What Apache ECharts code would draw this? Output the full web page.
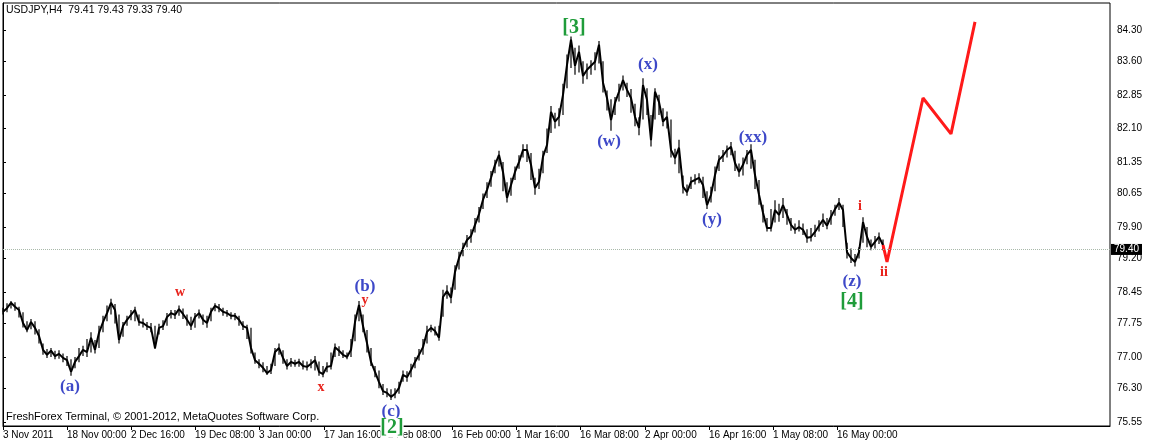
<!DOCTYPE html>
<html><head><meta charset="utf-8">
<script src="https://cdn.jsdelivr.net/npm/echarts@6/dist/echarts.min.js"></script>
<style>html,body{margin:0;padding:0;background:#fff}#c{width:1154px;height:442px}</style>
</head><body><div id="c"></div>
<script>
// USDJPY H4, sampled every ~4 bars-width (bar index = position in array)
const prices = [
78.01,78.09,78.21,78.12,78.05,77.76,77.60,77.78,77.65,77.47,
77.16,77.05,77.14,77.02,77.07,76.98,76.93,76.67,76.89,77.02,
77.16,77.11,77.43,77.16,77.54,77.78,77.98,78.21,78.05,77.38,
77.69,77.83,77.94,78.05,77.78,77.76,77.69,77.65,77.20,77.65,
77.69,77.89,77.98,77.94,78.07,77.96,77.83,77.69,77.89,77.98,
77.83,77.76,78.01,78.14,78.09,78.01,77.98,77.92,77.92,77.83,
77.69,77.65,77.20,76.93,76.85,76.76,76.64,76.71,77.11,77.20,
76.98,76.80,76.89,76.85,76.89,76.80,76.78,76.85,76.93,76.67,
76.62,76.78,76.80,77.22,77.14,77.05,77.00,77.16,77.78,78.16,
77.69,77.31,76.89,76.67,76.44,76.24,76.20,76.11,76.18,76.31,
76.60,76.55,76.71,76.89,77.05,77.22,77.56,77.65,77.58,77.43,
78.34,78.47,78.32,78.90,79.21,79.43,79.61,79.70,79.95,80.19,
80.51,80.73,81.00,81.29,81.51,81.13,80.55,80.84,81.13,81.35,
81.62,81.62,81.29,80.77,80.91,81.47,81.73,82.47,82.25,82.36,
82.85,83.52,84.08,83.50,83.81,83.27,83.41,83.50,83.59,83.97,
83.12,82.78,82.29,82.67,82.92,83.18,82.96,82.78,82.36,82.11,
83.07,82.74,81.84,82.92,82.69,82.25,82.36,81.62,81.44,81.67,
80.80,80.68,80.91,80.95,81.00,80.84,80.39,80.62,81.06,81.40,
81.49,81.62,81.69,81.33,81.13,81.29,81.51,81.62,81.06,80.62,
80.22,79.88,79.88,80.28,80.17,80.39,80.17,79.95,79.84,79.90,
79.84,79.66,79.68,79.79,79.93,80.06,79.93,80.13,80.30,80.44,
80.28,79.34,79.21,79.12,79.34,80.01,79.68,79.46,79.57,79.68,
79.50
];
const highs = [
78.10,78.20,78.25,78.22,78.12,78.00,77.80,77.85,77.80,77.62,
77.30,77.18,77.20,77.14,77.15,77.08,77.02,76.95,77.00,77.20,
77.25,77.40,77.55,77.38,77.70,77.92,78.15,78.30,78.18,77.95,
77.78,77.92,78.05,78.12,77.95,77.86,77.78,77.76,77.70,77.74,
77.82,77.98,78.05,78.05,78.15,78.08,77.95,77.90,77.98,78.06,
77.95,77.92,78.10,78.20,78.18,78.10,78.05,78.00,77.98,77.92,
77.80,77.72,77.65,77.10,76.95,76.88,76.80,76.85,77.20,77.30,
77.15,76.95,76.98,76.94,76.96,76.92,76.90,76.95,77.02,76.90,
76.80,76.88,77.10,77.30,77.24,77.15,77.10,77.40,77.95,78.25,
77.95,77.60,77.20,76.80,76.70,76.40,76.30,76.28,76.30,76.45,
76.70,76.68,76.85,77.00,77.18,77.40,77.70,77.72,77.68,77.70,
78.50,78.60,78.55,79.05,79.35,79.55,79.72,79.85,80.10,80.35,
80.65,80.90,81.15,81.40,81.60,81.35,80.90,81.00,81.25,81.50,
81.75,81.75,81.55,81.00,81.20,81.60,82.10,82.60,82.45,82.55,
83.10,83.75,84.15,83.90,83.95,83.60,83.55,83.62,83.80,84.05,
83.60,82.95,82.75,82.80,83.10,83.28,83.12,82.98,82.65,82.35,
83.22,83.00,82.40,83.00,82.85,82.55,82.48,82.30,81.65,81.85,
81.05,80.85,81.02,81.08,81.10,81.02,80.70,80.80,81.25,81.50,
81.62,81.72,81.80,81.60,81.32,81.45,81.62,81.75,81.40,80.95,
80.40,80.10,80.30,80.50,80.42,80.55,80.30,80.10,79.98,80.05,
79.98,79.85,79.88,79.95,80.05,80.20,80.10,80.28,80.40,80.55,
80.40,79.55,79.42,79.30,79.45,80.12,79.90,79.62,79.70,79.78,
79.62
];
const lows = [
77.95,78.00,78.08,78.03,77.88,77.66,77.55,77.62,77.50,77.30,
77.05,76.98,77.00,76.95,76.96,76.88,76.80,76.58,76.75,76.88,
77.02,77.00,77.10,77.08,77.20,77.55,77.80,77.95,77.75,77.30,
77.45,77.70,77.82,77.80,77.70,77.66,77.60,77.55,77.18,77.50,
77.60,77.70,77.86,77.85,77.92,77.85,77.70,77.60,77.65,77.86,
77.72,77.65,77.80,78.02,78.00,77.92,77.90,77.84,77.82,77.70,
77.60,77.40,77.08,76.85,76.75,76.66,76.60,76.62,76.80,77.05,
76.85,76.72,76.78,76.78,76.78,76.72,76.70,76.75,76.70,76.58,
76.55,76.66,76.72,77.00,77.02,76.98,76.95,77.00,77.35,77.80,
77.55,77.10,76.80,76.55,76.30,76.15,76.10,76.04,76.08,76.18,
76.45,76.45,76.55,76.75,76.92,77.05,77.30,77.55,77.48,77.36,
77.90,78.30,78.20,78.50,78.95,79.25,79.45,79.55,79.78,80.00,
80.30,80.55,80.80,81.10,81.25,80.70,80.45,80.60,80.95,81.20,
81.45,81.35,80.95,80.62,80.75,81.10,81.55,82.00,82.10,82.15,
82.40,83.00,83.45,83.30,83.35,83.10,83.20,83.30,83.40,83.55,
82.90,82.50,82.05,82.40,82.70,82.95,82.80,82.45,82.15,81.95,
82.30,82.40,81.70,82.30,82.40,82.15,82.10,81.45,81.30,81.10,
80.65,80.60,80.75,80.85,80.88,80.55,80.30,80.45,80.70,81.15,
81.35,81.45,81.50,81.15,81.02,81.05,81.30,81.20,80.75,80.40,
80.00,79.80,79.80,80.00,80.02,80.10,79.95,79.82,79.75,79.80,
79.72,79.55,79.58,79.68,79.80,79.90,79.85,79.95,80.15,80.28,
79.90,79.20,79.10,79.02,79.20,79.55,79.45,79.38,79.42,79.52,
79.38
];
// red projection
const projIdx = [220, 221, 230, 237, 243];
const projPrices = [79.50, 79.12, 82.78, 81.98, 84.48];
const currentPrice = 79.40;
const headerText = 'USDJPY,H4  79.41 79.43 79.33 79.40';
const copyrightText = 'FreshForex Terminal, \u00a9 2001-2012, MetaQuotes Software Corp.';
// axis ticks
const yTicks = [84.30, 83.60, 82.85, 82.10, 81.35, 80.65, 79.90, 79.20, 78.45, 77.75, 77.00, 76.30, 75.55];
const xTickIdx = [0, 16, 32, 48, 64, 80.25, 96.25, 112.25, 128.25, 144.25, 160.5, 176.5, 192.5, 208.5];
const xTickLabels = ['3 Nov 2011', '18 Nov 00:00', '2 Dec 16:00', '19 Dec 08:00', '3 Jan 00:00', '17 Jan 16:00',
  '2 Feb 08:00', '16 Feb 00:00', '1 Mar 16:00', '16 Mar 08:00', '2 Apr 00:00', '16 Apr 16:00', '1 May 08:00', '16 May 00:00'];
// wave annotations
const annIdx   = [16.75, 44.25, 79.5, 90.5, 90.5, 97, 97.25, 142.75, 151.5, 161.25, 187.5, 177.25, 212.25, 212.25, 214.25, 220.25];
const annPrice = [76.33, 78.45, 76.33, 78.56, 78.27, 75.77, 75.42, 84.35, 81.80, 83.52, 81.89, 80.06, 78.68, 78.23, 80.37, 78.88];
const annText  = ['(a)', 'w', 'x', '(b)', 'y', '(c)', '[2]', '[3]', '(w)', '(x)', '(xx)', '(y)', '(z)', '[4]', 'i', 'ii'];
const annKind  = ['blue', 'red', 'red', 'blue', 'red', 'blue', 'green', 'green', 'blue', 'blue', 'blue', 'blue', 'blue', 'green', 'red', 'red'];

const kindStyle = {
  blue: { fill: '#3d48c8', font: 'bold 17px "Liberation Serif"' },
  green: { fill: '#1f9c3a', font: 'bold 20px "Liberation Serif"' },
  red: { fill: '#e8231c', font: 'bold 14px "Liberation Serif"' }
};

const chart = echarts.init(document.getElementById('c'), null, { renderer: 'canvas' });
const axFont = { fontFamily: 'Liberation Sans', fontSize: 10, color: '#000' };
chart.setOption({
  animation: false,
  backgroundColor: '#fff',
  grid: { left: 3, top: 3, right: 44, bottom: 16, show: true, borderColor: '#000', borderWidth: 1, backgroundColor: 'transparent' },
  xAxis: {
    type: 'value', min: 0, max: 276.75,
    axisLine: { show: true, lineStyle: { color: '#000' } },
    splitLine: { show: false },
    axisTick: { show: true, length: 4, customValues: xTickIdx, lineStyle: { color: '#000' } },
    axisLabel: Object.assign({
      customValues: xTickIdx, align: 'left', margin: 4, showMinLabel: true, showMaxLabel: true,
      formatter: v => { const k = xTickIdx.indexOf(v); return k >= 0 ? xTickLabels[k] : ''; }
    }, axFont)
  },
  yAxis: {
    type: 'value', position: 'right', min: 75.46, max: 84.90, scale: true,
    axisLine: { show: true, lineStyle: { color: '#000' } },
    splitLine: { show: false },
    axisTick: { show: true, length: 3, customValues: yTicks, lineStyle: { color: '#000' } },
    axisLabel: Object.assign({ customValues: yTicks, margin: 7, formatter: v => v.toFixed(2) }, axFont)
  },
  series: [
    {
      // high-low bar wicks (H4 bars)
      type: 'custom', z: 2, silent: true,
      data: prices.map((p, i) => [i, lows[i], highs[i]]),
      renderItem: (params, api) => {
        const lo = api.coord([api.value(0), api.value(1)]);
        const hi = api.coord([api.value(0), api.value(2)]);
        return { type: 'line', shape: { x1: lo[0], y1: lo[1], x2: hi[0], y2: hi[1] },
          style: { stroke: '#000', lineWidth: 1.2 } };
      }
    },
    {
      type: 'line', data: prices.map((p, i) => [i, p]), symbol: 'none',
      lineStyle: { color: '#000', width: 2 }, z: 3,
      markLine: {
        silent: true, symbol: 'none',
        data: [{ yAxis: currentPrice }],
        lineStyle: { color: '#a9b9aa', type: 'dotted', width: 1 },
        label: { position: 'end', distance: 1, formatter: () => currentPrice.toFixed(2),
          backgroundColor: '#000', color: '#fff', padding: [1, 3, 0, 3], fontFamily: 'Liberation Sans', fontSize: 10 }
      }
    },
    {
      type: 'line', data: projIdx.map((x, k) => [x, projPrices[k]]), symbol: 'none',
      lineStyle: { color: '#ff1a1a', width: 3 }, z: 4
    }
  ]
});

const g = [];
g.push({ type: 'text', x: 6, y: 10, z: 100, style: { text: headerText, fill: '#000', font: '10.5px "Liberation Sans"', textVerticalAlign: 'middle' } });
g.push({ type: 'text', x: 6, y: 417, z: 100, style: { text: copyrightText, fill: '#000', font: '11px "Liberation Sans"', textVerticalAlign: 'middle' } });
annText.forEach((t, k) => {
  const p = chart.convertToPixel({ xAxisIndex: 0, yAxisIndex: 0 }, [annIdx[k], annPrice[k]]);
  const st = kindStyle[annKind[k]];
  const style = { text: t, fill: st.fill, font: st.font, textAlign: 'center', textVerticalAlign: 'middle' };
  if (t === '[2]') { style.backgroundColor = '#fff'; style.padding = [0, 0, 0, 0]; }
  g.push({ type: 'text', x: p[0], y: p[1], z: 200, style });
});
chart.setOption({ graphic: g });
</script>
</body></html>
